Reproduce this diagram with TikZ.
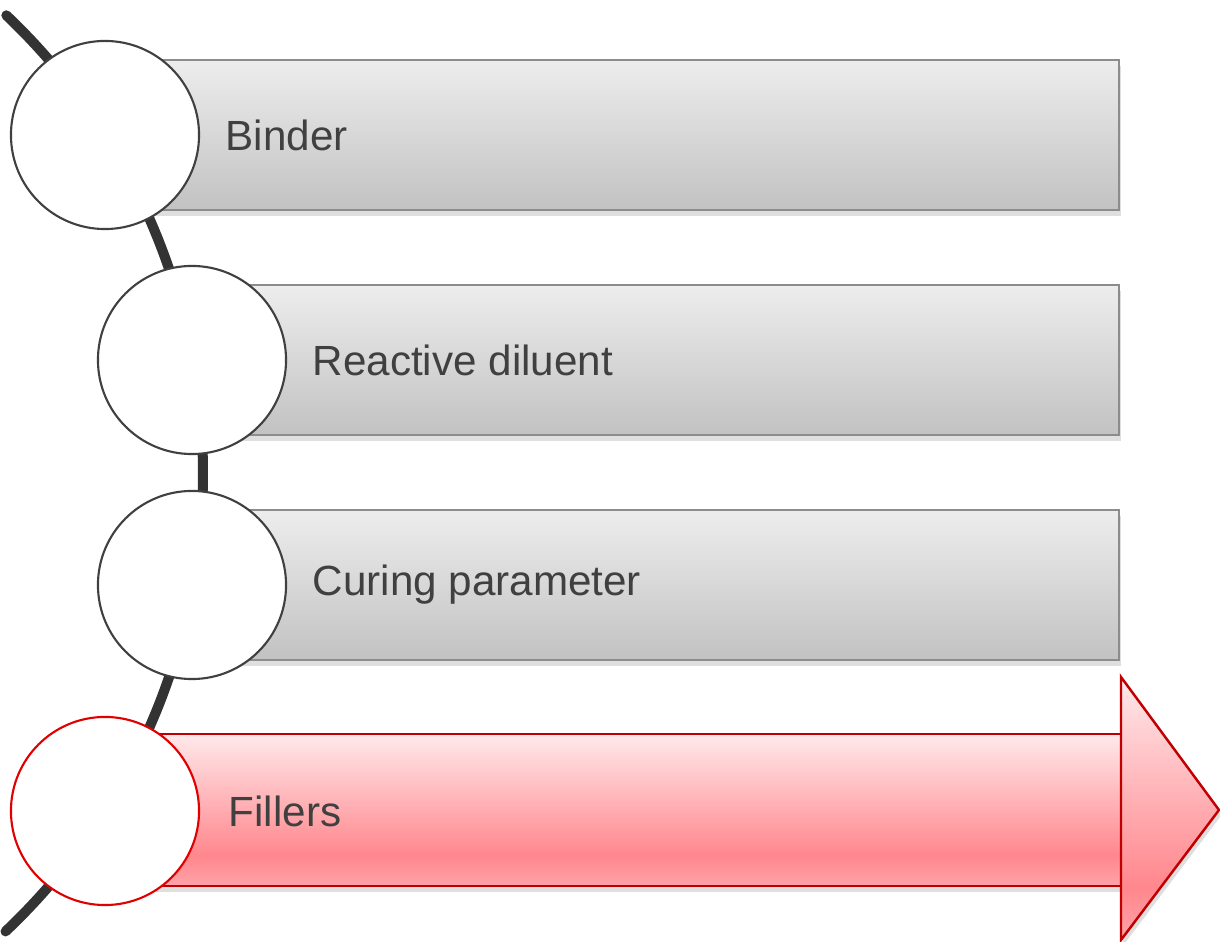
\documentclass[tikz,border=0pt]{standalone}
\usepackage{fontspec}
\setmainfont{Liberation Sans}
\usetikzlibrary{shadows}
\definecolor{txtgray}{HTML}{404040}
\definecolor{spinegray}{HTML}{333333}
\definecolor{barline}{HTML}{8C8C8C}
\definecolor{bartop}{HTML}{EDEDED}
\definecolor{barbot}{HTML}{C2C2C2}
\definecolor{redline}{HTML}{C00000}
\definecolor{redtop}{HTML}{FFE9EB}
\definecolor{redmid}{HTML}{FF878D}
\definecolor{redlow}{HTML}{FFA3A8}
\definecolor{dotred}{HTML}{E00000}
\pgfdeclareverticalshading{redfade}{100bp}{color(0bp)=(redlow); color(25bp)=(redlow);
  color(35bp)=(redmid); color(75bp)=(redtop); color(100bp)=(redtop)}

\begin{document}
\begin{tikzpicture}[x=0.01cm,y=0.01cm,
  spine/.style={draw=spinegray,line width=2.85pt,line cap=round},
  bar/.style={draw=barline,line width=0.6pt,top color=bartop,bottom color=barbot,
    drop shadow={shadow xshift=0.6pt,shadow yshift=-1.6pt,opacity=0.25}},
  redbar/.style={draw=redline,line width=0.7pt,shading=redfade,
    drop shadow={shadow xshift=0.6pt,shadow yshift=-1.6pt,opacity=0.25}},
  dot/.style={circle,draw=txtgray,line width=0.6pt,fill=white,minimum size=1.88cm,inner sep=0pt},
  lab/.style={anchor=west,font=\fontsize{12pt}{14pt}\selectfont,text=txtgray,inner sep=0pt}]
\useasboundingbox (0,0) rectangle (1220,942);
% curved spine behind everything
\draw[spine] (-428,469) ++(46.5:631) arc[start angle=46.5,end angle=-46.6,radius=631];
% bars
\draw[bar] (150,732) rectangle (1119,882);
\draw[bar] (235,507) rectangle (1119,657);
\draw[bar] (235,282) rectangle (1119,432);
\draw[redbar] (150,56) rectangle (1121,208);
\draw[redbar] (1121,2) -- (1219,132) -- (1121,265) -- cycle;
% circles
\node[dot] (d1) at (105,807) {};
\node[dot] (d2) at (192,582) {};
\node[dot] (d3) at (192,357) {};
\node[dot,draw=dotred] (d4) at (105,131) {};
% labels
\node[lab] (binder) at (225,807) {Binder};
\node[lab] (diluent) at (312,582) {Reactive diluent};
\node[lab] (curing) at (312,357) {Curing parameter};
\node[lab] (fillers) at (228,131) {Fillers};
\end{tikzpicture}
\end{document}
